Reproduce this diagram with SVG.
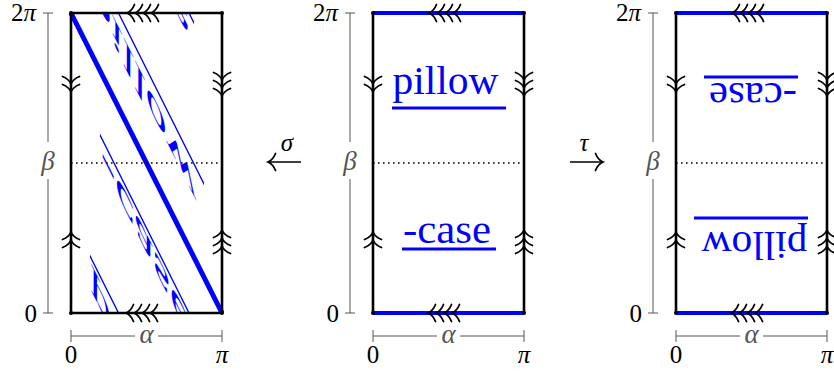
<svg xmlns="http://www.w3.org/2000/svg" xmlns:xlink="http://www.w3.org/1999/xlink" width="834" height="372" viewBox="0 0 834 372">
<style>
.edge{stroke:#000;stroke-width:2.6;fill:none}
.bedge{stroke:#00f;stroke-width:4;fill:none}
.dotl{stroke:#000;stroke-width:1.6;stroke-dasharray:1.6 3.4;fill:none}
.ax{stroke:#555;stroke-width:1;fill:none}
.chev{fill:none;stroke:#000;stroke-width:1.8;stroke-linecap:round}
.ul{stroke:#00f;stroke-width:3}
.arr{stroke:#000;stroke-width:1.5;fill:none}
.cd{fill:#000}
</style>
<defs>
<path id="ch" class="chev" d="M-7.5,-8.5 C-5.5,-3.5 -2,-0.8 0,0 C-2,0.8 -5.5,3.5 -7.5,8.5"/>
<g id="d2"><use xlink:href="#ch" transform="translate(0,0) rotate(90)"/><use xlink:href="#ch" transform="translate(0,8) rotate(90)"/></g>
<g id="d3"><use xlink:href="#ch" transform="translate(0,0) rotate(90)"/><use xlink:href="#ch" transform="translate(0,8) rotate(90)"/><use xlink:href="#ch" transform="translate(0,16) rotate(90)"/></g>
<g id="u2"><use xlink:href="#ch" transform="translate(0,0) rotate(-90)"/><use xlink:href="#ch" transform="translate(0,8) rotate(-90)"/></g>
<g id="u3"><use xlink:href="#ch" transform="translate(0,0) rotate(-90)"/><use xlink:href="#ch" transform="translate(0,8) rotate(-90)"/><use xlink:href="#ch" transform="translate(0,16) rotate(-90)"/></g>
<g id="l4"><use xlink:href="#ch" transform="translate(0,0) rotate(180)"/><use xlink:href="#ch" transform="translate(8,0) rotate(180)"/><use xlink:href="#ch" transform="translate(16,0) rotate(180)"/><use xlink:href="#ch" transform="translate(24,0) rotate(180)"/></g>
<clipPath id="clipP" clipPathUnits="userSpaceOnUse"><rect x="0" y="0" width="151" height="300"/></clipPath>
<g id="frame">
<line class="dotl" x1="0" y1="150" x2="151" y2="150"/>
<line class="edge" x1="0" y1="0" x2="0" y2="300"/>
<line class="edge" x1="151" y1="0" x2="151" y2="300"/>
</g>
<g id="marks">
<use xlink:href="#d2" x="0" y="71"/>
<use xlink:href="#d3" x="151" y="67"/>
<use xlink:href="#u2" x="0" y="219"/>
<use xlink:href="#u3" x="151" y="217"/>
<use xlink:href="#l4" x="56" y="0"/>
<use xlink:href="#l4" x="55" y="300"/>
<circle class="cd" cx="0" cy="0" r="2"/>
<circle class="cd" cx="151" cy="0" r="2"/>
<circle class="cd" cx="0" cy="300" r="2"/>
<circle class="cd" cx="151" cy="300" r="2"/>
</g>
<path id="axlines" class="ax" d="M-23,0 V129 M-23,166 V300 M-28,0 H-18 M-28,300 H-18 M0,323 H64 M87,323 H151 M0,317 V329 M151,317 V329"/>
</defs>
<rect width="834" height="372" fill="#fff"/>

<g id="panel-left">
<g transform="translate(71,13)" clip-path="url(#clipP)">
<g transform="matrix(1,2,0,-1,0,300)" fill="#00f">
<text x="19.5" y="81" font-family="Liberation Serif" font-size="40" textLength="106" lengthAdjust="spacingAndGlyphs">pillow</text>
<line class="ul" x1="19" y1="95" x2="133" y2="95"/>
<text x="30" y="230" font-family="Liberation Serif" font-size="40" textLength="88" lengthAdjust="spacingAndGlyphs">-case</text>
<line class="ul" x1="29" y1="236" x2="123" y2="236"/>
</g>
<g transform="matrix(1,2,0,-1,0,0)" fill="#00f">
<text x="19.5" y="81" font-family="Liberation Serif" font-size="40" textLength="106" lengthAdjust="spacingAndGlyphs">pillow</text>
<line class="ul" x1="19" y1="95" x2="133" y2="95"/>
<text x="30" y="230" font-family="Liberation Serif" font-size="40" textLength="88" lengthAdjust="spacingAndGlyphs">-case</text>
<line class="ul" x1="29" y1="236" x2="123" y2="236"/>
</g>
</g>
<g transform="translate(71,13)">
<line x1="0" y1="0" x2="151" y2="300" stroke="#00f" stroke-width="5"/>
<use xlink:href="#frame"/>
<line class="edge" x1="0" y1="0" x2="151" y2="0"/>
<line class="edge" x1="0" y1="300" x2="151" y2="300"/>
<use xlink:href="#marks"/>
<use xlink:href="#axlines"/>
</g>
<text x="48" y="170" text-anchor="middle" font-family="Liberation Serif" font-style="italic" font-size="27" fill="#555">β</text>
<text x="146.5" y="343" text-anchor="middle" font-family="Liberation Serif" font-style="italic" font-size="27" fill="#555">α</text>
<text x="36" y="21" text-anchor="end" font-family="Liberation Serif" font-size="25">2<tspan font-style="italic">π</tspan></text>
<text x="37" y="322" text-anchor="end" font-family="Liberation Serif" font-size="25">0</text>
<text x="71" y="363" text-anchor="middle" font-family="Liberation Serif" font-size="25">0</text>
<text x="222" y="363" text-anchor="middle" font-family="Liberation Serif" font-size="25" font-style="italic">π</text>
</g>

<g id="panel-middle">
<g transform="translate(373,13)" fill="#00f">
<text x="19.5" y="81" font-family="Liberation Serif" font-size="40" textLength="106" lengthAdjust="spacingAndGlyphs">pillow</text>
<line class="ul" x1="19" y1="95" x2="133" y2="95"/>
<text x="30" y="230" font-family="Liberation Serif" font-size="40" textLength="88" lengthAdjust="spacingAndGlyphs">-case</text>
<line class="ul" x1="29" y1="236" x2="123" y2="236"/>
</g>
<g transform="translate(373,13)">
<use xlink:href="#frame"/>
<line class="bedge" x1="0" y1="0" x2="151" y2="0"/>
<line class="bedge" x1="0" y1="300" x2="151" y2="300"/>
<use xlink:href="#marks"/>
<use xlink:href="#axlines"/>
</g>
<text x="350" y="170" text-anchor="middle" font-family="Liberation Serif" font-style="italic" font-size="27" fill="#555">β</text>
<text x="448.5" y="343" text-anchor="middle" font-family="Liberation Serif" font-style="italic" font-size="27" fill="#555">α</text>
<text x="338" y="21" text-anchor="end" font-family="Liberation Serif" font-size="25">2<tspan font-style="italic">π</tspan></text>
<text x="339" y="322" text-anchor="end" font-family="Liberation Serif" font-size="25">0</text>
<text x="373" y="363" text-anchor="middle" font-family="Liberation Serif" font-size="25">0</text>
<text x="524" y="363" text-anchor="middle" font-family="Liberation Serif" font-size="25" font-style="italic">π</text>
</g>

<g id="panel-right">
<g transform="translate(676,13) rotate(180 75.5 150)" fill="#00f">
<text x="19.5" y="81" font-family="Liberation Serif" font-size="40" textLength="106" lengthAdjust="spacingAndGlyphs">pillow</text>
<line class="ul" x1="19" y1="95" x2="133" y2="95"/>
<text x="30" y="230" font-family="Liberation Serif" font-size="40" textLength="88" lengthAdjust="spacingAndGlyphs">-case</text>
<line class="ul" x1="29" y1="236" x2="123" y2="236"/>
</g>
<g transform="translate(676,13)">
<use xlink:href="#frame"/>
<line class="bedge" x1="0" y1="0" x2="151" y2="0"/>
<line class="bedge" x1="0" y1="300" x2="151" y2="300"/>
<use xlink:href="#marks"/>
<use xlink:href="#axlines"/>
</g>
<text x="653" y="170" text-anchor="middle" font-family="Liberation Serif" font-style="italic" font-size="27" fill="#555">β</text>
<text x="751.5" y="343" text-anchor="middle" font-family="Liberation Serif" font-style="italic" font-size="27" fill="#555">α</text>
<text x="641" y="21" text-anchor="end" font-family="Liberation Serif" font-size="25">2<tspan font-style="italic">π</tspan></text>
<text x="642" y="322" text-anchor="end" font-family="Liberation Serif" font-size="25">0</text>
<text x="676" y="363" text-anchor="middle" font-family="Liberation Serif" font-size="25">0</text>
<text x="827" y="363" text-anchor="middle" font-family="Liberation Serif" font-size="25" font-style="italic">π</text>
</g>

<g id="connectors">
<g id="sigma">
<line class="arr" x1="301" y1="162" x2="269" y2="162"/>
<use xlink:href="#ch" transform="translate(268,162) rotate(180)"/>
<text x="287" y="151" text-anchor="middle" font-family="Liberation Serif" font-style="italic" font-size="25">σ</text>
</g>
<g id="tau">
<line class="arr" x1="570" y1="162" x2="602" y2="162"/>
<use xlink:href="#ch" transform="translate(603,162)"/>
<text x="584" y="151" text-anchor="middle" font-family="Liberation Serif" font-style="italic" font-size="25">τ</text>
</g>
</g>
</svg>
